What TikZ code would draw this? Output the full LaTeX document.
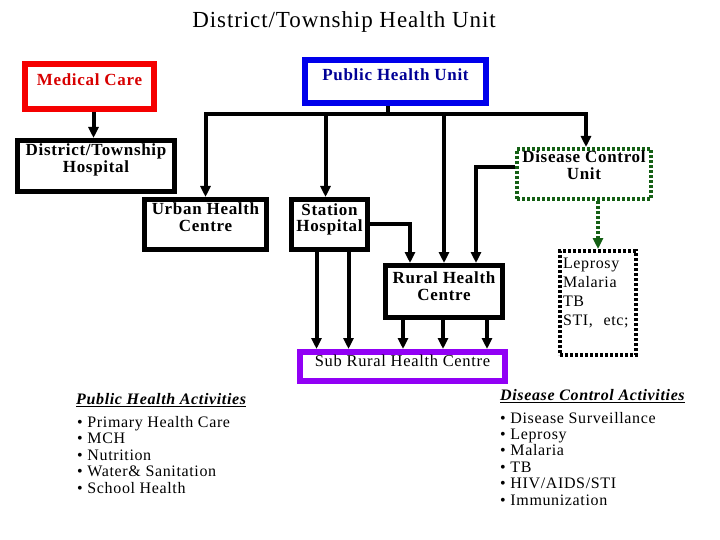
\documentclass[tikz,border=0pt]{standalone}
\usepackage{fontspec}
\setmainfont{Liberation Serif}[LetterSpace=4]
\usetikzlibrary{arrows.meta, positioning, calc}

\definecolor{medred}{RGB}{245,0,0}
\definecolor{medtext}{RGB}{215,0,0}
\definecolor{phublue}{RGB}{0,0,235}
\definecolor{phutext}{RGB}{0,0,150}
\definecolor{subpurple}{RGB}{145,0,245}
\definecolor{dcugreen}{RGB}{20,95,20}

% underlined heading
\newcommand{\headline}[1]{\setbox0\hbox{#1}\rlap{\rule[-3pt]{\wd0}{1.4pt}}\box0}

\tikzset{
    unitbox/.style={draw, rectangle, inner sep=3pt, align=center,
        font=\fontsize{17}{17}\selectfont\bfseries},
    flow/.style={line width=4pt, -{Triangle[length=11pt,width=10pt]}},
    plain/.style={line width=4pt},
    dotline/.style={line width=4pt, dash pattern=on 3pt off 2pt},
    listtext/.style={align=left, inner sep=0pt, font=\fontsize{16}{16.4}\selectfont},
    acthead/.style={inner sep=0pt, font=\fontsize{16}{16}\selectfont\bfseries\itshape}
}

\begin{document}
\begin{tikzpicture}[x=1pt, y=-1pt]
    \useasboundingbox (0,0) rectangle (720,540);
    % Title
    \node[font=\fontsize{23}{23}\selectfont, anchor=base] (title) at (344,28) {District/Township Health Unit};

    % Top row: medical care and public health unit
    \node[unitbox, draw=medred, text=medtext, line width=6pt, minimum width=129pt,
        text height=19pt, text depth=20pt, anchor=north west] (med) at (22,61) {Medical Care};
    \node[unitbox, draw=phublue, text=phutext, line width=6pt, minimum width=181pt,
        text height=18pt, text depth=19pt, anchor=north west] (phu) at (302,57) {Public Health Unit};

    % Second row
    \node[unitbox, line width=5pt, minimum width=157pt,
        text height=29.5pt, text depth=15.5pt, anchor=north west] (dth) at (15,138) {District/Township\\Hospital};
    \node[unitbox, draw=dcugreen, dotline, minimum width=134pt,
        text height=28pt, text depth=16pt, anchor=north west] (dcu) at (515,147) {Disease Control\\Unit};

    % Third row
    \node[unitbox, line width=5pt, minimum width=122pt,
        text height=28.5pt, text depth=15.5pt, anchor=north west] (uhc) at (142,197) {Urban Health\\Centre};
    \node[unitbox, line width=5pt, minimum width=76pt,
        text height=29.5pt, text depth=14.5pt, anchor=north west] (sth) at (289,197) {Station\\Hospital};
    \node[unitbox, line width=5pt, minimum width=117pt,
        text height=31.5pt, text depth=14.5pt, anchor=north west] (rhc) at (383,263) {Rural Health\\Centre};
    \node[draw, dotline, inner sep=3pt, text width=70pt, align=left,
        font=\fontsize{16}{19.3}\selectfont,
        text height=14pt, text depth=84pt, anchor=north west] (dis) at (558,249) {Leprosy\\Malaria\\TB\\STI,~ etc;};

    % Bottom box
    \node[unitbox, draw=subpurple, line width=6pt, minimum width=205pt,
        font=\fontsize{16.5}{16.5}\selectfont,
        text height=11pt, text depth=12pt, anchor=north west] (srhc) at (297,349) {Sub Rural Health Centre};

    % Connectors
    \draw[flow] ([xshift=4pt]med.south) -- ([xshift=4pt]med.south |- dth.north);
    \coordinate (bus) at (388,114);
    \draw[plain] (phu.south -| bus) -- (bus);
    \draw[flow] (bus) -| (uhc.north);
    \draw[flow] (bus) -| ([xshift=2pt]dcu.north);
    \draw[flow] (bus -| sth.north) ++(-4,0) -- ([xshift=-4pt]sth.north);
    \draw[flow] (bus -| rhc.north) -- (rhc.north);
    \draw[flow] (sth.east) -| ([xshift=-34pt]rhc.north);
    \draw[flow] ([yshift=7pt]dcu.west) -| ([xshift=32pt]rhc.north);
    \foreach \dx in {-13,19}
        \draw[flow] ([xshift=\dx pt]sth.south) -- ([xshift=\dx pt]sth.south |- srhc.north);
    \foreach \dx in {-41,-1,43}
        \draw[flow] ([xshift=\dx pt]rhc.south) -- ([xshift=\dx pt]rhc.south |- srhc.north);
    \draw[flow, dotline, dcugreen] (dis.north |- dcu.south) -- (dis.north);

    % Activities
    \node[acthead, anchor=base west] (phact) at (76,404) {\headline{Public Health Activities}};
    \node[listtext, anchor=base west] (phlist) at (77,493)
        {• Primary Health Care\\• MCH\\• Nutrition\\• Water\& Sanitation\\• School Health};
    \node[acthead, anchor=base west] (dcact) at (500,400) {\headline{Disease Control Activities}};
    \node[listtext, anchor=base west] (dclist) at (500,505)
        {• Disease Surveillance\\• Leprosy\\• Malaria\\• TB\\• HIV/AIDS/STI\\• Immunization};
\end{tikzpicture}
\end{document}
